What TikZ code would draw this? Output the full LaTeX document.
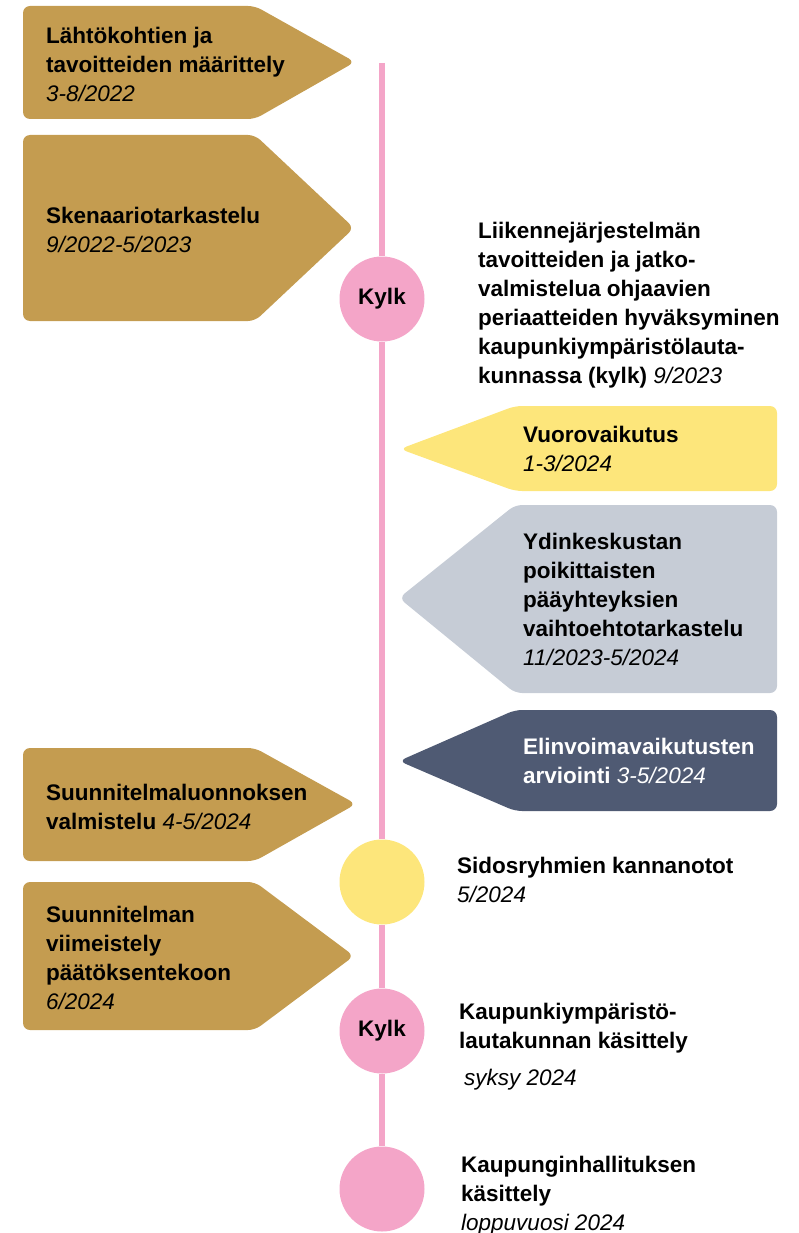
\documentclass[tikz,border=0pt]{standalone}
\usepackage{fontspec}
\setmainfont{Liberation Sans}
\usetikzlibrary{positioning}
\definecolor{vkulta}{RGB}{196,156,80}
\definecolor{vkeltainen}{RGB}{253,230,123}
\definecolor{vharmaa}{RGB}{198,204,214}
\definecolor{vtumma}{RGB}{79,90,115}
\definecolor{vpinkki}{RGB}{244,165,200}
\newcommand{\pvm}[1]{{\mdseries\itshape #1}}

\begin{document}
\begin{tikzpicture}[x=1pt, y=-1pt,
  teksti/.style = {anchor=base west, align=left, inner sep=0pt,
                  font=\fontsize{22.5}{29}\selectfont\bfseries},
  kulta/.style  = {fill=vkulta, rounded corners=7pt},
  keltainen/.style = {fill=vkeltainen, rounded corners=7pt},
  harmaa/.style = {fill=vharmaa, rounded corners=7pt},
  tumma/.style  = {fill=vtumma, rounded corners=7pt},
  pallo/.style  = {circle, minimum size=85pt, inner sep=0pt,
                  font=\fontsize{22.5}{26}\selectfont\bfseries},
  aikajana/.style = {line width=6pt, draw=vpinkki},
]
\useasboundingbox (0,0) rectangle (798,1233);

%% Vasemmat nuolilaatikot (oikealle)
\fill[kulta] (23,6) -- (255,6) -- (355,62) -- (255,119) -- (23,119) -- cycle;
\fill[kulta] (23,135) -- (255,135) -- (354,228) -- (255,321) -- (23,321) -- cycle;
\fill[kulta] (23,748) -- (255,748) -- (356,804) -- (255,861) -- (23,861) -- cycle;
\fill[kulta] (23,882) -- (255,882) -- (354,956) -- (255,1030) -- (23,1030) -- cycle;

%% Oikeat nuolilaatikot (vasemmalle)
\fill[keltainen] (777,406) -- (515,406) -- (400,449) -- (515,491) -- (777,491) -- cycle;
\fill[harmaa] (777,505) -- (515,505) -- (399,598) -- (515,693) -- (777,693) -- cycle;
\fill[tumma] (777,710) -- (515,710) -- (399,761) -- (515,811) -- (777,811) -- cycle;

%% Aikajanan pallot
\coordinate (alku) at (382,63);
\node[pallo, fill=vpinkki]    (kylk1) at (382,299)  {Kylk};
\node[pallo, fill=vkeltainen] (sidos) at (382,882)  {};
\node[pallo, fill=vpinkki]    (kylk2) at (382,1031) {Kylk};
\node[pallo, fill=vpinkki]    (khal)  at (382,1189) {};

\draw[aikajana] (alku) -- (kylk1);
\draw[aikajana] (kylk1) -- (sidos);
\draw[aikajana] (sidos) -- (kylk2);
\draw[aikajana] (kylk2) -- (khal);

%% Tekstit (sijainti = viimeisen rivin perusviiva)
\node[teksti] (lahto) at (46,102) {Lähtökohtien ja\\tavoitteiden määrittely\\\pvm{3-8/2022}};
\node[teksti] (skena) at (46,253) {Skenaariotarkastelu\\\pvm{9/2022-5/2023}};
\node[teksti] (liik)  at (478,383) {Liikennejärjestelmän\\tavoitteiden ja jatko-\\valmistelua ohjaavien\\periaatteiden hyväksyminen\\kaupunkiympäristölauta-\\kunnassa (kylk) \pvm{9/2023}};
\node[teksti] (vuoro) at (523,471) {Vuorovaikutus\\\pvm{1-3/2024}};
\node[teksti] (ydin)  at (523,665) {Ydinkeskustan\\poikittaisten\\pääyhteyksien\\vaihtoehtotarkastelu\\\pvm{11/2023-5/2024}};
\node[teksti, text=white] (elin) at (523,783) {Elinvoimavaikutusten\\arviointi \pvm{3-5/2024}};
\node[teksti] (luon)  at (46,829) {Suunnitelmaluonnoksen\\valmistelu \pvm{4-5/2024}};
\node[teksti] (viim)  at (46,1009) {Suunnitelman\\viimeistely\\päätöksentekoon\\\pvm{6/2024}};
\node[teksti] (kann)  at (457,902) {Sidosryhmien kannanotot\\\pvm{5/2024}};
\node[teksti] (klk)   at (459,1085) {Kaupunkiympäristö-\\lautakunnan käsittely\\[8pt]\hspace{5pt}\pvm{syksy 2024}};
\node[teksti] (khk)   at (461,1230) {Kaupunginhallituksen\\käsittely\\\pvm{loppuvuosi 2024}};

\end{tikzpicture}
\end{document}
